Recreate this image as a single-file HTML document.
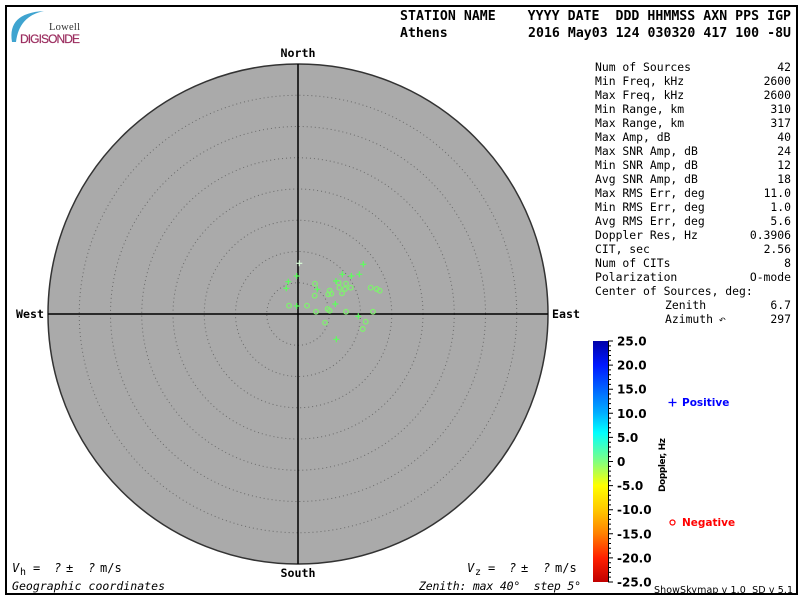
<!DOCTYPE html>
<html>
<head>
<meta charset="utf-8">
<style>
  html,body{margin:0;padding:0;background:#fff;}
  svg{display:block;}
  .mono{font-family:"DejaVu Sans Mono","Liberation Mono",monospace;}
  .sans{font-family:"DejaVu Sans","Liberation Sans",sans-serif;}
</style>
</head>
<body>
<svg width="800" height="600" viewBox="0 0 800 600" xmlns="http://www.w3.org/2000/svg">
  <defs>
    <linearGradient id="cb" x1="0" y1="0" x2="0" y2="1">
      <stop offset="0" stop-color="#0000a8"/>
      <stop offset="0.1" stop-color="#0018ff"/>
      <stop offset="0.2" stop-color="#0064ff"/>
      <stop offset="0.3" stop-color="#00b0ff"/>
      <stop offset="0.38" stop-color="#00ffff"/>
      <stop offset="0.5" stop-color="#80ff80"/>
      <stop offset="0.6" stop-color="#ffff00"/>
      <stop offset="0.7" stop-color="#ffc800"/>
      <stop offset="0.8" stop-color="#ff8000"/>
      <stop offset="0.9" stop-color="#ff2000"/>
      <stop offset="1" stop-color="#c00000"/>
    </linearGradient>
  </defs>
  <rect x="0" y="0" width="800" height="600" fill="#fff"/>
  <!-- frame -->
  <rect x="6" y="6" width="791" height="588" fill="none" stroke="#000" stroke-width="2"/>

  <!-- logo -->
  <path d="M12,42 Q7,13 44,11 Q19,16 16,42 Z" fill="#3fa4d0"/>
  <text x="49" y="30" font-family="Liberation Serif,serif" font-size="10.5" fill="#333" textLength="31">Lowell</text>
  <text x="20" y="43" font-family="Liberation Sans,sans-serif" font-size="12" fill="#9b2d5f" textLength="60" stroke="#9b2d5f" stroke-width="0.2">DIGISONDE</text>

  <!-- header -->
  <text x="400" y="20" class="mono" font-size="13.2" font-weight="bold" style="white-space:pre" textLength="391">STATION NAME    YYYY DATE  DDD HHMMSS AXN PPS IGP</text>
  <text x="400" y="37" class="mono" font-size="13.2" font-weight="bold" style="white-space:pre">Athens</text>
  <text x="528" y="37" class="mono" font-size="13.2" font-weight="bold" style="white-space:pre" textLength="263">2016 May03 124 030320 417 100 -8U</text>

  <!-- skymap circle -->
  <circle cx="298" cy="314" r="250" fill="#aaaaaa" stroke="#333" stroke-width="1.5"/>
  <g fill="none" stroke="#6a6a6a" stroke-width="1" stroke-dasharray="1 3">
    <circle cx="298" cy="314" r="31.25"/>
    <circle cx="298" cy="314" r="62.5"/>
    <circle cx="298" cy="314" r="93.75"/>
    <circle cx="298" cy="314" r="125"/>
    <circle cx="298" cy="314" r="156.25"/>
    <circle cx="298" cy="314" r="187.5"/>
    <circle cx="298" cy="314" r="218.75"/>
  </g>
  <line x1="298" y1="64" x2="298" y2="564" stroke="#000" stroke-width="1.5"/>
  <line x1="48" y1="314" x2="548" y2="314" stroke="#000" stroke-width="1.5"/>

  <!-- compass -->
  <g class="mono" font-size="11.6" font-weight="bold" fill="#000">
    <text x="298" y="57" text-anchor="middle">North</text>
    <text x="298" y="577" text-anchor="middle">South</text>
    <text x="16" y="318">West</text>
    <text x="552" y="318">East</text>
  </g>

  <!-- data: circles -->
  <g fill="none" stroke="#80f070" stroke-width="1.3">
    <circle cx="315" cy="283.7" r="2.3"/>
    <circle cx="338.7" cy="282.7" r="2.3"/>
    <circle cx="346" cy="283.7" r="2.3"/>
    <circle cx="329.7" cy="290.7" r="2.3"/>
    <circle cx="339.3" cy="287.7" r="2.3"/>
    <circle cx="345" cy="289" r="2.3"/>
    <circle cx="350.7" cy="287.7" r="2.3"/>
    <circle cx="370.7" cy="287.7" r="2.3"/>
    <circle cx="376.7" cy="289" r="2.3"/>
    <circle cx="379.7" cy="290.7" r="2.3"/>
    <circle cx="328.3" cy="294.3" r="2.3"/>
    <circle cx="331.3" cy="293.7" r="2.3"/>
    <circle cx="342" cy="293.3" r="2.3"/>
    <circle cx="314.7" cy="295.7" r="2.3"/>
    <circle cx="289" cy="305.7" r="2.3"/>
    <circle cx="307" cy="305.7" r="2.3"/>
    <circle cx="316" cy="311.7" r="2.3"/>
    <circle cx="327.7" cy="309" r="2.3"/>
    <circle cx="329.7" cy="310.7" r="2.3"/>
    <circle cx="346" cy="311.7" r="2.3"/>
    <circle cx="373" cy="311.7" r="2.3"/>
    <circle cx="325" cy="322.7" r="2.3"/>
    <circle cx="365.7" cy="321.7" r="2.3"/>
    <circle cx="362.7" cy="329" r="2.3"/>
  </g>
  <!-- data: plus -->
  <g stroke="#5cff5c" stroke-width="1.2">
    <path d="M296.3,263.3h6M299.3,260.3v6" stroke="#d8ffd8"/>
    <path d="M293.7,276h6M296.7,273v6"/>
    <path d="M285.3,281.7h6M288.3,278.7v6"/>
    <path d="M283.3,288.3h6M286.3,285.3v6"/>
    <path d="M293.7,306h6M296.7,303v6"/>
    <path d="M360.3,264.3h6M363.3,261.3v6"/>
    <path d="M339.3,274.3h6M342.3,271.3v6"/>
    <path d="M348.3,276h6M351.3,273v6"/>
    <path d="M356.3,274.3h6M359.3,271.3v6"/>
    <path d="M333,281h6M336,278v6"/>
    <path d="M314.3,289.3h6M317.3,286.3v6"/>
    <path d="M332.3,304h6M335.3,301v6"/>
    <path d="M355.3,316.3h6M358.3,313.3v6"/>
    <path d="M333.3,339.3h6M336.3,336.3v6"/>
  </g>

  <!-- stats table -->
  <g class="mono" font-size="11.4" fill="#000" style="white-space:pre">
    <text x="595" y="71">Num of Sources</text>
    <text x="595" y="85">Min Freq, kHz</text>
    <text x="595" y="99">Max Freq, kHz</text>
    <text x="595" y="113">Min Range, km</text>
    <text x="595" y="127">Max Range, km</text>
    <text x="595" y="141">Max Amp, dB</text>
    <text x="595" y="155">Max SNR Amp, dB</text>
    <text x="595" y="169">Min SNR Amp, dB</text>
    <text x="595" y="183">Avg SNR Amp, dB</text>
    <text x="595" y="197">Max RMS Err, deg</text>
    <text x="595" y="211">Min RMS Err, deg</text>
    <text x="595" y="225">Avg RMS Err, deg</text>
    <text x="595" y="239">Doppler Res, Hz</text>
    <text x="595" y="253">CIT, sec</text>
    <text x="595" y="267">Num of CITs</text>
    <text x="595" y="281">Polarization</text>
    <text x="595" y="295">Center of Sources, deg:</text>
    <text x="665" y="309">Zenith</text>
    <text x="665" y="323">Azimuth</text>
  </g>
  <text x="719" y="323" font-family="DejaVu Sans,sans-serif" font-size="8" fill="#000">↶</text>
  <g class="mono" font-size="11.4" fill="#000" text-anchor="end">
    <text x="791" y="71">42</text>
    <text x="791" y="85">2600</text>
    <text x="791" y="99">2600</text>
    <text x="791" y="113">310</text>
    <text x="791" y="127">317</text>
    <text x="791" y="141">40</text>
    <text x="791" y="155">24</text>
    <text x="791" y="169">12</text>
    <text x="791" y="183">18</text>
    <text x="791" y="197">11.0</text>
    <text x="791" y="211">1.0</text>
    <text x="791" y="225">5.6</text>
    <text x="791" y="239">0.3906</text>
    <text x="791" y="253">2.56</text>
    <text x="791" y="267">8</text>
    <text x="791" y="281">O-mode</text>
    <text x="791" y="309">6.7</text>
    <text x="791" y="323">297</text>
  </g>

  <!-- colorbar -->
  <rect x="593" y="341" width="15.5" height="241" fill="url(#cb)"/>
  <line x1="608.5" y1="341" x2="608.5" y2="582" stroke="#000" stroke-width="1"/>
  <path stroke="#000" stroke-width="1" fill="none" d="
M608,341h5 M608,345.82h3 M608,350.64h3 M608,355.46h3 M608,360.28h3
M608,365.1h5 M608,369.92h3 M608,374.74h3 M608,379.56h3 M608,384.38h3
M608,389.2h5 M608,394.02h3 M608,398.84h3 M608,403.66h3 M608,408.48h3
M608,413.3h5 M608,418.12h3 M608,422.94h3 M608,427.76h3 M608,432.58h3
M608,437.4h5 M608,442.22h3 M608,447.04h3 M608,451.86h3 M608,456.68h3
M608,461.5h5 M608,466.32h3 M608,471.14h3 M608,475.96h3 M608,480.78h3
M608,485.6h5 M608,490.42h3 M608,495.24h3 M608,500.06h3 M608,504.88h3
M608,509.7h5 M608,514.52h3 M608,519.34h3 M608,524.16h3 M608,528.98h3
M608,533.8h5 M608,538.62h3 M608,543.44h3 M608,548.26h3 M608,553.08h3
M608,557.9h5 M608,562.72h3 M608,567.54h3 M608,572.36h3 M608,577.18h3
M608,582h5"/>
  <g class="sans" font-size="12" font-weight="bold" fill="#000">
    <text x="617" y="345.5">25.0</text>
    <text x="617" y="369.6">20.0</text>
    <text x="617" y="393.7">15.0</text>
    <text x="617" y="417.8">10.0</text>
    <text x="617" y="441.9">5.0</text>
    <text x="617" y="466">0</text>
    <text x="617" y="490.1">-5.0</text>
    <text x="617" y="514.2">-10.0</text>
    <text x="617" y="538.3">-15.0</text>
    <text x="617" y="562.4">-20.0</text>
    <text x="617" y="586.5">-25.0</text>
  </g>
  <text transform="translate(665,465) rotate(-90)" text-anchor="middle" class="sans" font-size="9" font-weight="bold" fill="#000" textLength="54">Doppler, Hz</text>

  <!-- legend -->
  <path d="M668.5,402.5h8M672.5,398.5v8" stroke="#0000ff" stroke-width="1.3"/>
  <text x="682" y="406" class="sans" font-size="10.5" font-weight="bold" fill="#0000ff">Positive</text>
  <circle cx="672.5" cy="522.5" r="2.5" fill="none" stroke="#ff0000" stroke-width="1.2"/>
  <text x="682" y="526" class="sans" font-size="10.5" font-weight="bold" fill="#ff0000">Negative</text>

  <text x="654" y="593" class="sans" font-size="9.5" fill="#000" style="white-space:pre" textLength="139">ShowSkymap v 1.0  SD v 5.1</text>

  <!-- bottom left -->
  <g class="mono" font-size="12" fill="#000">
    <text x="12" y="572" font-style="italic">V</text>
    <text x="20" y="575" font-size="10">h</text>
    <text x="33" y="572">=</text>
    <text x="54" y="572" font-style="italic">?</text>
    <text x="66" y="572">±</text>
    <text x="88" y="572" font-style="italic">?</text>
    <text x="100" y="572">m/s</text>
    <text x="12" y="590" font-style="italic" font-size="11.5" textLength="153">Geographic coordinates</text>

    <text x="467" y="572" font-style="italic">V</text>
    <text x="475" y="575" font-size="10">z</text>
    <text x="488" y="572">=</text>
    <text x="509" y="572" font-style="italic">?</text>
    <text x="521" y="572">±</text>
    <text x="543" y="572" font-style="italic">?</text>
    <text x="555" y="572">m/s</text>
    <text x="419" y="590" font-style="italic" font-size="11.5" style="white-space:pre" textLength="162">Zenith: max 40°  step 5°</text>
  </g>
</svg>
</body>
</html>
